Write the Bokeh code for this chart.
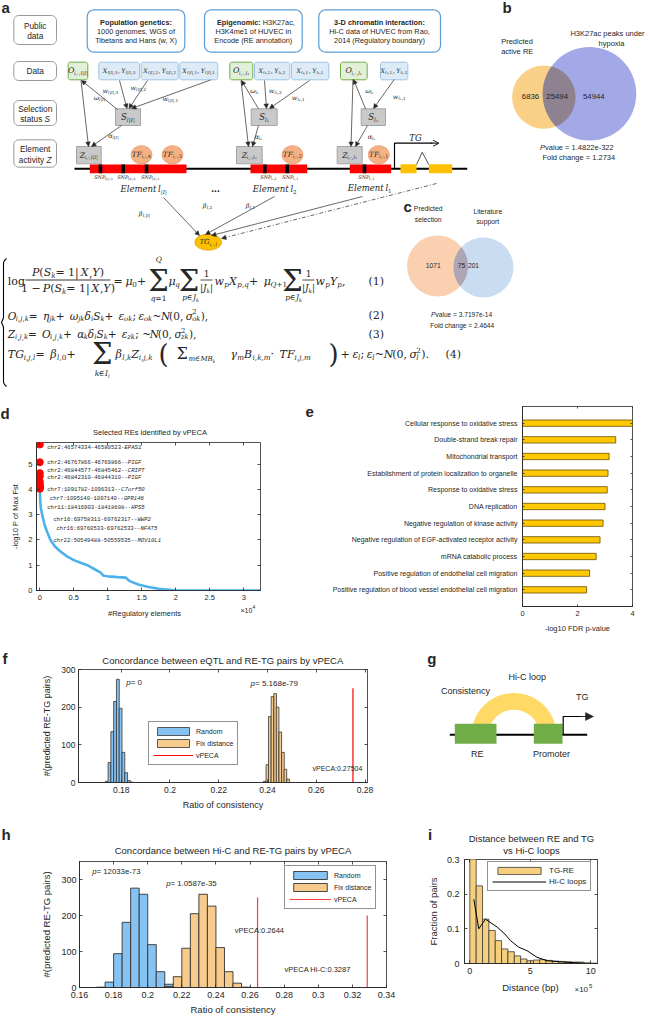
import numpy as np
from bokeh.plotting import figure
from bokeh.layouts import column, row
from bokeh.models import (Label, LinearAxis, FixedTicker, Range1d, Legend, LegendItem,
                          Arrow, NormalHead, OpenHead)
from bokeh.core.properties import value
from bokeh.embed import file_html
from bokeh.resources import INLINE

SANS = "Liberation Sans"
SERIF = "DejaVu Serif"
MONO = "Liberation Mono"
INK = "#262626"

# ======================= DATA =======================
b_sets = ["Predicted", "active RE", "H3K27ac peaks under", "hypoxia"]
b_counts = [6836, 25494, 54944]
b_pvalue = "1.4822e-322"
b_fold = "1.2734"

c_sets = ["Predicted", "selection", "Literature", "support"]
c_counts = [1071, 75, 201]
c_pvalue = "3.7197e-14"
c_fold = "2.4644"

d_regions = ["chr2:46574334-46580523-", "chr2:46767866-46769866--", "chr2:46844577-46845462--",
             "chr2:46842310-46844310--", "chr7:1091782-1096313--", "chr7:1095140-1097140--",
             "chr11:18416903-18418608--", "chr16:69758311-69762317--", "chr16:69760533-69762533--",
             "chr22:50549488-50559535--"]
d_genes = ["EPAS1", "PIGF", "CRIPT", "PIGF", "C7orf50", "GPR146", "HPS5", "WWP2", "NFAT5", "MOV10L1"]
d_rank = [1, 2, 3, 4, 5, 6, 7, 8, 9, 10]
d_score = [5.77, 5.07, 4.64, 4.52, 4.30, 4.20, 4.12, 4.08, 4.05, 4.02]
d_curve_rank = [10, 60, 150, 350, 700, 1100, 1570, 2200, 3000, 4000, 5000, 6000, 7000, 8000,
                8900, 9400, 10000, 11500, 12600, 13300, 14500, 16000, 17500, 19000, 20000, 32400]
d_curve_score = [4.0, 3.55, 3.25, 3.0, 2.6, 2.3, 2.0, 1.75, 1.55, 1.35, 1.2, 1.1, 1.0, 0.85,
                 0.72, 0.58, 0.56, 0.53, 0.51, 0.36, 0.24, 0.14, 0.07, 0.03, 0.0, 0.0]

e_terms = ["Cellular response to oxidative stress", "Double-strand break repair",
           "Mitochondrial transport", "Establishment of protein localization to organelle",
           "Response to oxidative stress", "DNA replication",
           "Negative regulation of kinase activity",
           "Negative regulation of EGF-activated receptor activity",
           "mRNA catabolic process", "Positive regulation of endothelial cell migration",
           "Positive regulation of blood vessel endothelial cell migration"]
e_values = [4.0, 3.39, 3.15, 3.11, 3.08, 3.0, 2.93, 2.82, 2.68, 2.44, 2.33]

f_bin_random = 0.00114
f_random_left = [0.1735, 0.17464, 0.17578, 0.17692, 0.17806, 0.1792, 0.18034, 0.18148, 0.18262, 0.18376]
f_random_count = [3, 53, 135, 215, 274, 197, 80, 26, 5, 1]
f_bin_fix = 0.00107
f_fix_left = [0.2383, 0.2394, 0.2404, 0.2415, 0.2426, 0.2436, 0.2447, 0.2458, 0.2468, 0.2479]
f_fix_count = [3, 47, 175, 228, 236, 200, 134, 80, 35, 9]
f_vpeca = 0.27504
f_vpeca_height = 250
f_pvals = ["0", "5.168e-79"]

h_bin = 0.005
h_random_left = [0.170, 0.175, 0.180, 0.185, 0.190, 0.195, 0.200, 0.205, 0.210]
h_random_count = [1, 15, 94, 181, 276, 259, 119, 44, 9]
h_fix_left = [0.210, 0.215, 0.220, 0.225, 0.230, 0.235, 0.240, 0.245, 0.250, 0.255]
h_fix_count = [3, 30, 109, 205, 259, 226, 111, 44, 12, 1]
h_vpeca = [0.2644, 0.3287]
h_vpeca_height = [250, 200]
h_pvals = ["12033e-73", "1.0587e-35"]

i_bin = 52500
i_left = [0, 52500, 105000, 157500, 210000, 262500, 315000, 367500, 420000, 472500,
          525000, 577500, 630000, 682500, 735000, 787500, 840000, 892500, 945000, 997500]
i_frac = [0.32, 0.224, 0.128, 0.0955, 0.066, 0.042, 0.034, 0.022, 0.013, 0.008,
          0.010, 0.011, 0.009, 0.007, 0.006, 0.005, 0.004, 0.004, 0.002, 0.001]
i_hic_x = [33000, 74000, 129000, 226000, 290000, 336000, 404000, 473000, 555000, 638000, 775000, 940000]
i_hic_y = [0.185, 0.100, 0.128, 0.105, 0.085, 0.066, 0.047, 0.037, 0.018, 0.008, 0.004, 0.001]

# ======================= HELPERS =======================
def canvas(w, h):
    p = figure(width=w, height=h, x_range=Range1d(0, w), y_range=Range1d(h, 0),
               output_backend="svg", toolbar_location=None, min_border=0,
               x_axis_location=None, y_axis_location=None, frame_align=False)
    p.grid.visible = False
    p.outline_line_color = None
    return p


def T(p, x, y, s, size=8, font=SANS, style="normal", align="left", base="middle", color=INK, angle=0):
    p.text(x=[x], y=[y], text=[s], text_font=value(font), text_font_size=f"{size}px",
           text_font_style=style, text_align=align, text_baseline=base, text_color=color, angle=angle)


_W = {}
def _set(chars, w):
    for c in chars:
        _W[c] = w
_set("ABCDEGHKNOQRUVX", 0.76); _set("FLPSTYZ", 0.68); _set("IJ", 0.40); _set("MW", 0.98)
_set("abdeghnopqu", 0.61); _set("cksvxyz", 0.55); _set("ijl", 0.31); _set("ft", 0.38); _set("r", 0.47)
_set("mw", 0.88); _set("0123456789", 0.63); _set(",.;:·", 0.3); _set(" ", 0.26); _set("|", 0.33); _set("()", 0.39)
_set("=+−~∈", 0.82); _set("μηαβγδσ", 0.62); _set("ε", 0.52); _set("ω", 0.8); _set("Σ", 0.72); _set("₁₂₃", 0.42)


def tw(s, size, sub=False):
    return sum(_W.get(c, 0.6) for c in s) * size * (1.08 if sub else 1.0)


def parse(s):
    out = []
    i = 0
    while i < len(s):
        c = s[i]
        if c in "_^" and i + 1 < len(s):
            lvl = 1 if c == "_" else 2
            if s[i + 1] == "{":
                j = s.index("}", i + 2)
                out.append((s[i + 2:j], lvl)); i = j + 1
            else:
                out.append((s[i + 1], lvl)); i += 2
        else:
            j = i
            while j < len(s) and s[j] not in "_^":
                j += 1
            out.append((s[i:j], 0)); i = j
    return out


def mtext(p, x, y, s, size=11, align="left", upright=False, color=INK):
    segs = parse(s)
    items = []
    cx = 0.0
    k = 0
    while k < len(segs):
        t, lvl = segs[k]
        sz = size if lvl == 0 else size * 0.65
        dy = 0 if lvl == 0 else (size * 0.3 if lvl == 1 else -size * 0.38)
        w = tw(t, sz, lvl > 0)
        items.append((cx, dy, t, sz, lvl > 0))
        if lvl == 2 and k + 1 < len(segs) and segs[k + 1][1] == 1:
            t2 = segs[k + 1][0]
            items.append((cx, size * 0.3, t2, sz, True))
            cx += max(w, tw(t2, sz, True)); k += 2
            continue
        cx += w; k += 1
    x0 = x - cx / 2 if align == "center" else x
    for ox, dy, t, sz, sb in items:
        runs = []
        for ch in t:
            it = (ch.isalpha() and ch not in "Σ" and not upright)
            if runs and runs[-1][1] == it:
                runs[-1][0] += ch
            else:
                runs.append([ch, it])
        o = ox
        for rt, it in runs:
            T(p, x0 + o, y + dy, rt, size=sz, font=SERIF, style="italic" if it else "normal", color=color)
            o += tw(rt, sz, sb)
    return x0 + cx


def rrect(p, x0, y0, x1, y1, r, fill, line, lw=1.0):
    t = np.linspace(0, np.pi / 2, 8)
    xs, ys = [], []
    for cx, cy, a0 in [(x1 - r, y0 + r, -np.pi / 2), (x1 - r, y1 - r, 0.0),
                       (x0 + r, y1 - r, np.pi / 2), (x0 + r, y0 + r, np.pi)]:
        a = a0 + t
        xs += list(cx + r * np.cos(a)); ys += list(cy + r * np.sin(a))
    p.patch(xs, ys, fill_color=fill, line_color=line, line_width=lw)


def A(p, x0, y0, x1, y1, size=4.5, lw=0.7, dash="solid", head="normal"):
    if head == "open":
        h = OpenHead(size=size, line_color=INK, line_width=1.0)
    else:
        h = NormalHead(size=size, fill_color=INK, line_color=INK, line_width=0.5)
    p.add_layout(Arrow(end=h, x_start=x0, y_start=y0, x_end=x1, y_end=y1,
                       line_color=INK, line_width=lw, line_dash=dash))


def L(p, x, y, s, size=8, style="normal", align="left", font=SANS, color=INK, base="middle"):
    p.add_layout(Label(x=x, y=y, x_units="canvas", y_units="canvas", text=s,
                       text_font_size=f"{size}px", text_font_style=style, text_align=align,
                       text_baseline=base, text_color=color, text_font=font))


def venn(p, c1, r1, c2, r2, col1, col2, colo):
    p.ellipse(x=[c1[0]], y=[c1[1]], width=[2 * r1], height=[2 * r1], fill_color=col1, line_color=None)
    p.ellipse(x=[c2[0]], y=[c2[1]], width=[2 * r2], height=[2 * r2], fill_color=col2, line_color=None)
    t = np.linspace(0, 2 * np.pi, 720)
    ax, ay = c1[0] + r1 * np.cos(t), c1[1] + r1 * np.sin(t)
    bx, by = c2[0] + r2 * np.cos(t), c2[1] + r2 * np.sin(t)
    ia = (ax - c2[0]) ** 2 + (ay - c2[1]) ** 2 <= r2 ** 2
    ib = (bx - c1[0]) ** 2 + (by - c1[1]) ** 2 <= r1 ** 2
    px = np.concatenate([ax[ia], bx[ib]]); py = np.concatenate([ay[ia], by[ib]])
    ang = np.arctan2(py - py.mean(), px - px.mean())
    o = np.argsort(ang)
    p.patch(list(px[o]), list(py[o]), fill_color=colo, line_color=None)


def chart(w, h, xr, yr, ml, mr, mt, mb):
    p = figure(width=w, height=h, x_range=Range1d(*xr), y_range=Range1d(*yr),
               output_backend="svg", toolbar_location=None, frame_align=False,
               min_border_left=ml, min_border_right=mr, min_border_top=mt, min_border_bottom=mb)
    p.grid.visible = False
    p.outline_line_color = INK
    p.outline_line_width = 0.8
    p.background_fill_color = "white"
    return p


def style_axes(p, xt, yt, xl=None, yl=None, fs=8, xstand=4, ystand=4, mirror=True, tick=3):
    p.xaxis.ticker = FixedTicker(ticks=xt)
    p.yaxis.ticker = FixedTicker(ticks=yt)
    if xl is not None:
        p.xaxis.major_label_overrides = dict(zip(xt, xl))
    if yl is not None:
        p.yaxis.major_label_overrides = dict(zip(yt, yl))
    for ax in p.axis:
        ax.major_tick_in = tick
        ax.major_tick_out = 0
        ax.minor_tick_line_color = None
        ax.axis_line_color = INK
        ax.axis_line_width = 0.8
        ax.major_tick_line_color = INK
        ax.major_tick_line_width = 0.8
        ax.major_label_text_font_size = f"{fs}px"
        ax.major_label_text_font = SANS
        ax.major_label_text_color = INK
        ax.axis_label_text_font = SANS
        ax.axis_label_text_font_style = "normal"
        ax.axis_label_text_color = INK
    p.xaxis.major_label_standoff = xstand
    p.yaxis.major_label_standoff = ystand
    if mirror:
        for loc, tk in (("above", xt), ("right", yt)):
            ax = LinearAxis(ticker=FixedTicker(ticks=tk), major_label_overrides={v: "" for v in tk},
                            major_label_text_font_size="0px", major_tick_in=tick, major_tick_out=0,
                            minor_tick_line_color=None, axis_line_color=None,
                            major_tick_line_color=INK, major_tick_line_width=0.8,
                            major_label_standoff=0)
            p.add_layout(ax, loc)


def axlabel(ax, text, size, standoff):
    ax.axis_label = text
    ax.axis_label_text_font_size = f"{size}px"
    ax.axis_label_standoff = standoff


def legend(p, items, loc, gw, gh=10, fs=7):
    lg = Legend(items=[LegendItem(label=t, renderers=[r]) for t, r in items], location=loc,
                glyph_width=gw, glyph_height=gh, label_height=gh, label_text_font_size=f"{fs}px",
                label_text_font=SANS, label_text_color=INK, padding=4, spacing=2, margin=0,
                label_standoff=3, border_line_color=INK, border_line_width=0.8,
                background_fill_color="white", background_fill_alpha=1.0)
    p.add_layout(lg)

# ======================= ROW A : panels a, b, c and equations =======================
pa = canvas(650, 398)
T(pa, 1, 7, "a", 15, style="bold")

for (y0, y1) in [(15, 44), (61, 80), (100, 125), (139.3, 166.7)]:
    rrect(pa, 13.3, y0, 56, y1, 5, "white", "#7F7F7F", 0.8)
T(pa, 34.7, 25.5, "Public", 8.3, align="center")
T(pa, 34.7, 35.5, "data", 8.3, align="center")
T(pa, 34.7, 70.5, "Data", 8.3, align="center")
T(pa, 34.7, 108, "Selection", 8.3, align="center")
T(pa, 19.7, 118, "status", 8.3)
T(pa, 44.1, 118, "S", 8.3, style="italic")
T(pa, 34.7, 148.5, "Element", 8.3, align="center")
T(pa, 18.3, 159.5, "activity", 8.3)
T(pa, 46, 159.5, "Z", 8.3, style="italic")

for (x0, x1) in [(86.7, 184.3), (204, 301.7), (318.3, 440)]:
    rrect(pa, x0, 9.3, x1, 51.7, 7, "white", "#5B9BD5", 1.2)
T(pa, 135.5, 21.7, "Population genetics:", 7.3, style="bold", align="center")
T(pa, 135.5, 30.5, "1000 genomes, WGS of", 7.3, align="center")
T(pa, 135.5, 39.5, "Tibetans and Hans (w, X)", 7.3, align="center")
T(pa, 216.5, 21.7, "Epigenomic:", 7.3, style="bold")
T(pa, 262.3, 21.7, "H3K27ac,", 7.3)
T(pa, 252.8, 30.5, "H3K4me1 of HUVEC in", 7.3, align="center")
T(pa, 252.8, 39.5, "Encode (RE annotation)", 7.3, align="center")
T(pa, 379, 21.7, "3-D chromatin interaction:", 7.3, style="bold", align="center")
T(pa, 379, 30.5, "Hi-C data of HUVEC from Rao,", 7.3, align="center")
T(pa, 379, 39.5, "2014 (Regulatory boundary)", 7.3, align="center")

green = [(67.7, 87.3, "O_{i,·,l|I|}"), (229.3, 252.3, "O_{i,·,l₂}"), (340, 366.7, "O_{i,·,l₁}")]
blue = [(98.3, 139, "X_{l|I|,3}, Y_{l|I|,3}"), (140.7, 177.7, "X_{l|I|,2}, Y_{l|I|,2}"),
        (179.3, 217.3, "X_{l|I|,1}, Y_{l|I|,1}"), (254, 289.3, "X_{l₂,2}, Y_{l₂,2}"),
        (291, 328.3, "X_{l₂,1}, Y_{l₂,1}"), (380, 407.3, "X_{l₁,1}, Y_{l₁,1}")]
for x0, x1, s in green:
    rrect(pa, x0, 61.7, x1, 79.3, 2, "#E2F0D9", "#70AD47", 1.0)
    mtext(pa, (x0 + x1) / 2, 70.2, s, size=7.8, align="center")
for x0, x1, s in blue:
    rrect(pa, x0, 61.7, x1, 79.3, 2, "#DDEBF7", "#9DC3E6", 1.0)
    mtext(pa, (x0 + x1) / 2, 70.2, s, size=6.3, align="center")

for x0, x1, s in [(115, 140, "S_{l|I|}"), (250.7, 276.7, "S_{l₂}"), (360.7, 385, "S_{l₁}")]:
    pa.quad(left=[x0], right=[x1], top=[108.3], bottom=[125], fill_color="#C9C9C9", line_color="#A5A5A5", line_width=1)
    mtext(pa, (x0 + x1) / 2, 116.5, s, size=8.5, align="center")
for x0, x1, s in [(76, 100.7, "Z_{i,·,l|I|}"), (236, 261.7, "Z_{i,·,l₂}"), (336.7, 361.7, "Z_{i,·,l₁}")]:
    pa.quad(left=[x0], right=[x1], top=[146], bottom=[163.3], fill_color="#C9C9C9", line_color="#A5A5A5", line_width=1)
    mtext(pa, (x0 + x1) / 2, 154.5, s, size=7.4, align="center")

pa.line([74, 466.7], [168.3, 168.3], line_color="black", line_width=2)
for x0, x1 in [(89.3, 186), (250, 306.7), (349.3, 390.7)]:
    pa.quad(left=[x0], right=[x1], top=[164], bottom=[172.7], fill_color="#FF0000", line_color=None)
for xs in [100, 122.7, 146, 264.3, 286.7, 364]:
    pa.quad(left=[xs - 1.8], right=[xs + 1.8], top=[164], bottom=[172.7], fill_color="black", line_color=None)
for x, s in [(103, "SNP_{l|I|,3}"), (126, "SNP_{l|I|,2}"), (150, "SNP_{l|I|,1}"),
             (268, "SNP_{l₂,2}"), (290, "SNP_{l₂,1}"), (366, "SNP_{l₁,1}")]:
    mtext(pa, x, 176.5, s, size=5, align="center")
mtext(pa, 143.3, 188.5, "Element l_{|I|}", size=8.5, align="center")
mtext(pa, 274.3, 188.5, "Element l_2", size=8.5, align="center")
mtext(pa, 369.3, 187, "Element l_1", size=8.5, align="center")
T(pa, 215, 187, "...", 10, style="bold", align="center")

for x, s in [(141, "TF_{i,·,4}"), (172, "TF_{i,·,3}"), (292, "TF_{i,·,2}"), (378.3, "TF_{i,·,1}")]:
    pa.ellipse(x=[x], y=[154.3], width=[21], height=[18.3], fill_color="#F4B183", line_color="#E8956A", line_width=0.8)
    mtext(pa, x, 154.3, s, size=7.3, align="center")

for x0, x1 in [(400, 416), (428.3, 451.7)]:
    pa.quad(left=[x0], right=[x1], top=[163.7], bottom=[172.7], fill_color="#FFC000", line_color=None)
pa.line([416, 421.7, 428.3], [164, 151.7, 164], line_color=INK, line_width=0.8)
pa.line([394, 394, 432], [168.3, 142.7, 142.7], line_color="black", line_width=1.2)
A(pa, 430, 142.7, 438.5, 142.7, size=6, lw=1.2, head="open")
T(pa, 415, 137, "TG", 8.5, font=SERIF, style="italic", align="center")

arrows = [(119, 80, 126.5, 108), (147, 80, 128.5, 108), (210, 79.5, 131, 108),
          (117, 109, 81, 80), (80.5, 80, 88, 146), (121, 125, 91, 146),
          (264, 80, 266, 108), (309, 80, 269, 108), (258, 108.3, 241, 80),
          (240.5, 80, 248, 146), (258, 125, 252, 146),
          (393.7, 79, 373, 108), (365, 108.3, 353, 79), (352.5, 79, 350.5, 146), (367, 125, 355, 146)]
for a in arrows:
    A(pa, *a)
for x, y, s in [(110, 90, "w_{l|I|,3}"), (138, 87, "w_{l|I|,2}"), (170, 98, "w_{l|I|,1}"),
                (99, 97, "ω_{l|I|}"), (113, 135, "α_{l|I|}"),
                (275, 90, "w_{l₂,2}"), (298, 97, "w_{l₂,1}"), (254, 90, "ω_{l₂}"), (258, 136, "α_{l₂}"),
                (399, 96, "w_{l₁,1}"), (369, 90, "ω_{l₁}"), (371, 136, "α_{l₁}")]:
    mtext(pa, x, y, s, size=6.5, align="center")

A(pa, 163, 197, 199, 235)
A(pa, 274, 196, 205, 234)
A(pa, 362, 196, 211, 235)
A(pa, 436, 183, 221, 238, dash="4 2 1 2")
mtext(pa, 144, 213, "β_{l,|I|}", size=6.5, align="center")
mtext(pa, 207, 205, "β_{l,2}", size=6.5, align="center")
mtext(pa, 250, 205, "β_{l,1}", size=6.5, align="center")
pa.ellipse(x=[207.7], y=[241.7], width=[26.7], height=[16], fill_color="#FFC000", line_color="#E09A00", line_width=0.8)
mtext(pa, 207.7, 241.7, "TG_{i,·,l}", size=7, align="center")

# ---------- equations ----------
ty = np.linspace(258, 386, 120)
mid = 322.0
bxv = []
for yv in ty:
    d = abs(yv - mid)
    if d < 5:
        bxv.append(0.5 + 2.5 * (d / 5) ** 0.6)
    elif d > 59:
        bxv.append(3 + 3 * ((d - 59) / 5) ** 2)
    else:
        bxv.append(3.0)
pa.line(bxv, list(ty), line_color="black", line_width=1.1)

ES = 11
T(pa, 7.3, 281, "log", ES, font=SERIF)
mtext(pa, 67.5, 272, "P(S_k = 1|X,Y)", size=ES, align="center")
pa.segment(x0=[25], y0=[279.5], x1=[110], y1=[279.5], line_color="black", line_width=0.8)
mtext(pa, 67.5, 287.5, "1 − P(S_k = 1|X,Y)", size=ES, align="center")
mtext(pa, 113, 280.5, "= μ_0 +", size=ES)
for sx in [158, 188.5, 292]:
    T(pa, sx, 280, "Σ", 29, font=SERIF, align="center")
mtext(pa, 158, 258.5, "Q", size=7.5, align="center")
mtext(pa, 158, 297.5, "q=1", size=7.5, align="center")
mtext(pa, 168, 280.5, "μ_q", size=ES)
for sx, fx in [(190, 206), (293, 308)]:
    mtext(pa, sx, 297, "p∈J_k", size=7.5, align="center")
    T(pa, fx, 272.5, "1", 9, font=SERIF, align="center")
    pa.segment(x0=[fx - 6], y0=[279.5], x1=[fx + 6], y1=[279.5], line_color="black", line_width=0.7)
    mtext(pa, fx, 287.5, "|J_k|", size=9, align="center")
mtext(pa, 214, 280.5, "w_pX_{p,q} + μ_{Q+1}", size=ES)
mtext(pa, 315, 280.5, "w_pY_p,", size=ES)
T(pa, 368, 281, "(1)", ES, font=SERIF)
mtext(pa, 7.3, 315, "O_{i,j,k} = η_{jk} + ω_{jk}δ_iS_k + ε_{ok}; ε_{ok}~N(0, σ^2_{ok}),", size=10.5)
T(pa, 368, 315, "(2)", ES, font=SERIF)
mtext(pa, 7.3, 333.5, "Z_{i,j,k} = O_{i,j,k} + α_kδ_iS_k + ε_{zk}; ~N(0, σ^2_{zk}),", size=10.5)
T(pa, 368, 333.5, "(3)", ES, font=SERIF)
mtext(pa, 7.3, 353.5, "TG_{i,j,l} = β_{l,0} +", size=ES)
T(pa, 101.7, 353, "Σ", 29, font=SERIF, align="center")
mtext(pa, 101.7, 373, "k∈I_l", size=7.5, align="center")
mtext(pa, 115, 353.5, "β_{l,k}Z_{i,j,k}", size=ES)
T(pa, 163, 353, "(", 26, font=SERIF, align="center")
T(pa, 181.7, 353, "Σ", 16, font=SERIF, align="center")
mtext(pa, 188, 358.5, "m∈MB_k", size=7)
mtext(pa, 230, 353.5, "γ_mB_{i,k,m} · TF_{i,j,m}", size=ES)
T(pa, 333, 353, ")", 26, font=SERIF, align="center")
mtext(pa, 340, 353.5, "+ ε_l; ε_l~N(0, σ^2_l).", size=ES)
T(pa, 445, 354, "(4)", ES, font=SERIF)

# ---------- panel b ----------
T(pa, 502, 7, "b", 15, style="bold")
venn(pa, (543.3, 96.7), 31.7, (589, 93.3), 46.8, "#FAD087", "#A3A9E6", "#8E8190")
T(pa, 500.7, 41, b_sets[0], 7.5)
T(pa, 500.7, 51, b_sets[1], 7.5)
T(pa, 607, 33.3, b_sets[2], 7.5, align="center")
T(pa, 611, 43.3, b_sets[3], 7.5, align="center")
for x, v in zip([530, 556.7, 593.3], b_counts):
    T(pa, x, 95.5, str(v), 7.8, align="center")
T(pa, 539.4, 146.7, "P", 7.5, style="italic")
T(pa, 544.6, 146.7, " value = " + b_pvalue, 7.5)
T(pa, 578.3, 156.7, "Fold change = " + b_fold, 7.5, align="center")

# ---------- panel c ----------
T(pa, 403, 206, "c", 15, style="bold")
venn(pa, (437, 265.5), 30.5, (483, 267), 30, "#FBD0B0", "#C9DCF2", "#AFA6B5")
T(pa, 427.7, 208.3, c_sets[0], 6.8, align="center")
T(pa, 427.7, 219, c_sets[1], 6.8, align="center")
T(pa, 487.3, 210.7, c_sets[2], 6.8, align="center")
T(pa, 487.3, 221, c_sets[3], 6.8, align="center")
for x, v in zip([432.7, 461, 473], c_counts):
    T(pa, x, 265, str(v), 6.7, align="center")
T(pa, 430.5, 314, "P", 6.6, style="italic")
T(pa, 435, 314, " value = " + c_pvalue, 6.6)
T(pa, 461.7, 325, "Fold change = " + c_fold, 6.6, align="center")

# ======================= ROW B : d and e =======================
sd_top = canvas(300, 40)
T(sd_top, 0, 15, "d", 15, style="bold")
T(sd_top, 149.5, 34.3, "Selected REs identified by vPECA", 7.5, align="center")

pd = chart(300, 165, (-485, 32460), (0, 5.85), 36, 40, 4, 13)
pd.line(d_curve_rank, d_curve_score, line_color="#4DB1EC", line_width=2.6)
pd.scatter(d_rank, d_score, size=7, fill_color="#FF0000", line_color="#FF0000")
style_axes(pd, [0, 5000, 10000, 15000, 20000, 25000, 30000], [0, 1, 2, 3, 4, 5],
           xl=["0", "0.5", "1", "1.5", "2", "2.5", "3"], fs=7.5, xstand=4, ystand=4)
axlabel(pd.left[0], "-log10 P of Max Fst", 7.5, 5)
lab_x = [46.7, 46.7, 46.7, 46.7, 46.7, 49.3, 46.7, 53, 56, 53]
lab_y = [9, 24, 32, 39, 51, 59.7, 69, 81, 89.7, 102]
for x, y, reg, gene in zip(lab_x, lab_y, d_regions, d_genes):
    L(pd, x, y, reg, 5.6, font=MONO)
    L(pd, x + len(reg) * 3.36, y, gene, 5.6, font=MONO, style="italic")

sd_bot = canvas(300, 43)
T(sd_bot, 144, 9.7, "#Regulatory elements", 7.5, align="center")
T(sd_bot, 240, 6.5, "×10", 7)
T(sd_bot, 252, 3.5, "4", 5)

se = canvas(22, 248)
T(se, 5, 13.7, "e", 15, style="bold")

pe = chart(328, 248, (0, 4), (12, 0), 200, 18, 8, 40)
e_pos = list(range(1, len(e_terms) + 1))
pe.hbar(y=e_pos, left=0, right=e_values, height=0.38, fill_color="#FFC800", line_color="#6B5200", line_width=0.8)
style_axes(pe, [0, 2, 4], e_pos, yl=e_terms, fs=7, xstand=4, ystand=5, tick=2)
pe.below[0].major_label_text_font_size = "7.5px"
axlabel(pe.below[0], "-log10 FDR p-value", 7.5, 5)

# ======================= ROW C : f and g =======================
sf_top = canvas(400, 20)
T(sf_top, 2, 11.5, "f", 15, style="bold")
T(sf_top, 222.5, 14, "Concordance between eQTL and RE-TG pairs by vPECA", 9.5, align="center")

pf = chart(400, 157, (0.1625, 0.281), (0, 300), 78, 33, 3, 41)
rf1 = pf.quad(left=f_random_left, right=[v + f_bin_random for v in f_random_left], bottom=0, top=f_random_count,
              fill_color="#86C2F2", line_color="#333333", line_width=0.8)
rf2 = pf.quad(left=f_fix_left, right=[v + f_bin_fix for v in f_fix_left], bottom=0, top=f_fix_count,
              fill_color="#F7CB8C", line_color="#333333", line_width=0.8)
rf3 = pf.line([f_vpeca, f_vpeca], [0, f_vpeca_height], line_color="#FF0000", line_width=1.2)
fx = [0.18, 0.2, 0.22, 0.24, 0.26, 0.28]
style_axes(pf, fx, [0, 100, 200, 300], xl=[f"{v:g}" for v in fx], fs=8.5, xstand=4, ystand=3)
axlabel(pf.below[0], "Ratio of consistency", 9, 4)
axlabel(pf.left[0], "#(predicted RE-TG pairs)", 9, 6)
legend(pf, [("Random", rf1), ("Fix distance", rf2), ("vPECA", rf3)], (70, 17), 40)
L(pf, 125.7, 15.7, "p", 8, style="italic")
L(pf, 130.2, 15.7, " = " + f_pvals[0], 8)
L(pf, 250, 17, "p", 8, style="italic")
L(pf, 254.5, 17, " = " + f_pvals[1], 8)
L(pf, 312, 102.3, "vPECA:" + str(f_vpeca), 7)

pg = canvas(250, 177)
T(pg, 26.7, 12, "g", 15, style="bold")
tt = np.linspace(0, np.pi, 60)
gx = list(113.5 + 42.5 * np.cos(tt)) + list(113.5 + 25.7 * np.cos(tt[::-1]))
gy = list(89 - 42.5 * np.sin(tt)) + list(89 - 25.7 * np.sin(tt[::-1]))
pg.patch(gx, gy, fill_color="#FFD966", line_color=None)
pg.line([49.3, 186.7], [88.3, 88.3], line_color="black", line_width=2)
pg.quad(left=[54.3, 133.3], right=[96, 162], top=[77.3, 77.3], bottom=[97.3, 97.3], fill_color="#70AD47", line_color=None)
pg.line([162.7, 162.7, 186], [88.3, 70, 70], line_color="black", line_width=1.2)
A(pg, 180, 70, 193, 70, size=8, lw=1.2)
T(pg, 126.7, 30, "Hi-C loop", 9, align="center")
T(pg, 65, 44.7, "Consistency", 9, align="center")
T(pg, 181.7, 50.7, "TG", 9, align="center")
T(pg, 76.7, 107.3, "RE", 9, align="center")
T(pg, 151, 107.3, "Promoter", 9, align="center")

# ======================= ROW D : h and i =======================
sh_top = canvas(400, 33)
T(sh_top, 1, 11, "h", 15, style="bold")
T(sh_top, 232.5, 27, "Concordance between Hi-C and RE-TG pairs by vPECA", 9.5, align="center")

ph = chart(400, 161, (0.16, 0.34), (0, 350), 79, 14, 5, 30)
rh1 = ph.quad(left=h_random_left, right=[v + h_bin for v in h_random_left], bottom=0, top=h_random_count,
              fill_color="#86C2F2", line_color="#333333", line_width=0.9)
rh2 = ph.quad(left=h_fix_left, right=[v + h_bin for v in h_fix_left], bottom=0, top=h_fix_count,
              fill_color="#F7CB8C", line_color="#333333", line_width=0.9)
rh3 = ph.line([h_vpeca[0], h_vpeca[0]], [0, h_vpeca_height[0]], line_color="#FF3B3B", line_width=1.2)
ph.line([h_vpeca[1], h_vpeca[1]], [0, h_vpeca_height[1]], line_color="#FF3B3B", line_width=1.2)
hx = [0.16, 0.18, 0.2, 0.22, 0.24, 0.26, 0.28, 0.3, 0.32, 0.34]
style_axes(ph, hx, [0, 100, 200, 300], xl=[f"{v:g}" for v in hx], fs=9, xstand=4, ystand=3)
axlabel(ph.below[0], "Ratio of consistency", 9.5, 3)
axlabel(ph.left[0], "#(predicted RE-TG pairs)", 9.5, 6)
legend(ph, [("Random", rh1), ("Fix distance", rh2), ("vPECA", rh3)], (205, 78), 42)
L(ph, 91.7, 14.7, "p", 7.8, style="italic")
L(ph, 96, 14.7, " = " + h_pvals[0], 7.8)
L(ph, 165.7, 27.3, "p", 7.8, style="italic")
L(ph, 170, 27.3, " = " + h_pvals[1], 7.8)
L(ph, 234.3, 74, "vPECA:" + str(h_vpeca[0]), 7.5)
L(ph, 284, 113, "vPECA Hi-C:" + str(h_vpeca[1]), 7.5)

si_top = canvas(250, 33)
T(si_top, 27.5, 11, "i", 15, style="bold")
T(si_top, 131, 15.3, "Distance between RE and TG", 9.5, align="center")
T(si_top, 131, 27, "vs Hi-C loops", 9.5, align="center")

pi_ = chart(250, 122, (-44000, 1055000), (0, 0.3), 64, 53, 3, 15)
ri1 = pi_.quad(left=i_left, right=[v + i_bin for v in i_left], bottom=0, top=i_frac,
               fill_color="#F5CF7D", line_color="#3A3A3A", line_width=0.8)
ri2 = pi_.line(i_hic_x, i_hic_y, line_color="black", line_width=1)
style_axes(pi_, [0, 500000, 1000000], [0, 0.1, 0.2, 0.3], xl=["0", "5", "10"], yl=["0", "0.1", "0.2", "0.3"],
           fs=9, xstand=4, ystand=5)
axlabel(pi_.left[0], "Fraction of pairs", 9.5, 5)
legend(pi_, [("TG-RE", ri1), ("Hi-C loops", ri2)], (23, 72), 54, gh=9, fs=8)

si_bot = canvas(250, 39)
T(si_bot, 130, 8.7, "Distance (bp)", 9.5, align="center")
T(si_bot, 174, 11, "×10", 8)
T(si_bot, 188.5, 7, "5", 6)

col_d = column(sd_top, pd, sd_bot, spacing=0)
row_b = row(col_d, se, pe, spacing=0)
col_f = column(sf_top, pf, spacing=0)
row_c = row(col_f, pg, spacing=0)
col_h = column(sh_top, ph, spacing=0)
col_i = column(si_top, pi_, si_bot, spacing=0)
row_d = row(col_h, col_i, spacing=0)
layout = column(pa, row_b, row_c, row_d, spacing=0)
open("out.html", "w").write(file_html(layout, INLINE))
